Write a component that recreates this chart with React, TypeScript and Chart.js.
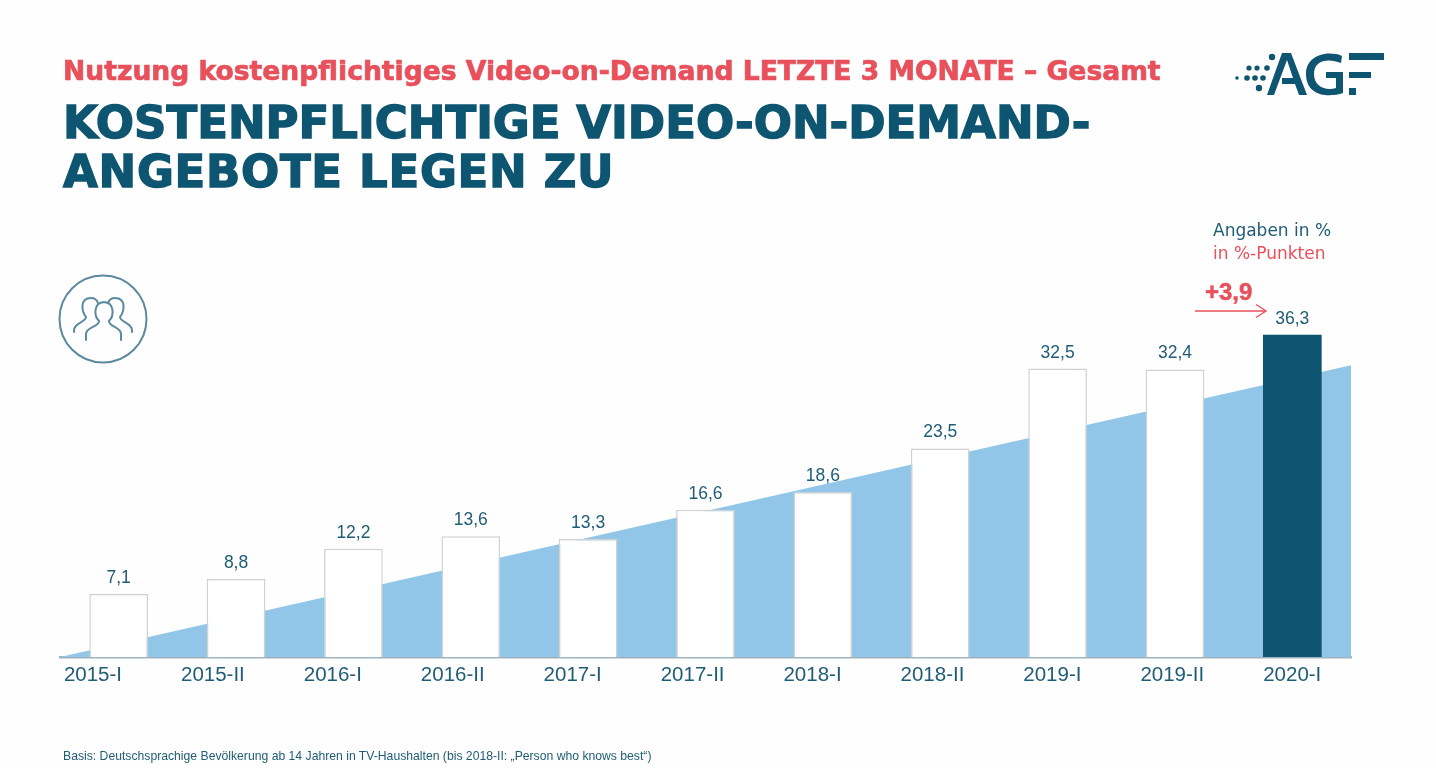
import React, { useEffect, useRef } from "react";
import { Chart, registerables } from "chart.js";

Chart.register(...registerables);

const categories = ["2015-I", "2015-II", "2016-I", "2016-II", "2017-I", "2017-II", "2018-I", "2018-II", "2019-I", "2019-II", "2020-I"];
const shares = [7.1, 8.8, 12.2, 13.6, 13.3, 16.6, 18.6, 23.5, 32.5, 32.4, 36.3];
const shareLabels = ["7,1", "8,8", "12,2", "13,6", "13,3", "16,6", "18,6", "23,5", "32,5", "32,4", "36,3"];
const trendX = [-0.275, 10.5];
const trendY = [0, 32.9];

const TEAL = "#0d5570";
const TEXT = "#1f5c75";
const RED = "#e8505b";
const BLUE = "#92c6e8";

const valueLabels = {
  id: "valueLabels",
  afterDatasetsDraw(chart: any) {
    const { ctx } = chart;
    const meta = chart.getDatasetMeta(0);
    ctx.save();
    ctx.font = '17.5px "Liberation Sans"';
    ctx.fillStyle = TEXT;
    ctx.textAlign = "center";
    ctx.textBaseline = "alphabetic";
    meta.data.forEach((bar: any, i: number) => {
      ctx.fillText(shareLabels[i], bar.x, bar.y - 11);
    });
    ctx.restore();
  },
};

const abs = (left: number, top: number, extra: React.CSSProperties = {}): React.CSSProperties => ({
  position: "absolute",
  left,
  top,
  margin: 0,
  whiteSpace: "nowrap",
  ...extra,
});

export default function App() {
  const ref = useRef<HTMLCanvasElement>(null);

  useEffect(() => {
    const chart = new Chart(ref.current as HTMLCanvasElement, {
      data: {
        labels: categories,
        datasets: [
          {
            type: "bar",
            data: shares,
            xAxisID: "x",
            yAxisID: "y",
            order: 1,
            grouped: false,
            barPercentage: 0.5,
            categoryPercentage: 1,
            backgroundColor: shares.map((_, i) => (i === shares.length - 1 ? TEAL : "#ffffff")),
            borderColor: shares.map((_, i) => (i === shares.length - 1 ? TEAL : "#cfd1d2")),
            borderWidth: shares.map((_, i) => (i === shares.length - 1 ? 0 : 1.5)),
          },
          {
            type: "line",
            data: trendX.map((x, i) => ({ x, y: trendY[i] })),
            xAxisID: "xLabels",
            yAxisID: "y",
            order: 2,
            fill: "origin",
            backgroundColor: BLUE,
            borderWidth: 0,
            pointRadius: 0,
            clip: false,
          },
        ],
      } as any,
      options: {
        responsive: false,
        animation: false,
        devicePixelRatio: 1,
        layout: { padding: { left: 60, right: 85, top: 302, bottom: 0 } },
        plugins: { legend: { display: false }, tooltip: { enabled: false }, title: { display: false } },
        scales: {
          x: {
            type: "category",
            position: "bottom",
            offset: true,
            display: false,
          },
          xLabels: {
            type: "linear",
            position: "bottom",
            min: -0.275,
            max: 10.49,
            afterBuildTicks: (axis: any) => {
              axis.ticks = categories.map((_, i) => ({ value: i }));
            },
            afterFit: (axis: any) => {
              axis.height = 111;
            },
            grid: { display: false, drawTicks: false },
            border: { display: true, color: "#9fb3bf", width: 2.5 },
            ticks: {
              autoSkip: false,
              maxRotation: 0,
              padding: 6,
              color: TEXT,
              font: { family: '"Liberation Sans"', size: 20.5 },
              callback: (v: any) => categories[Number(v)],
            },
          },
          y: { display: false, min: 0, max: 40 },
        },
      } as any,
      plugins: [valueLabels],
    });
    return () => chart.destroy();
  }, []);

  return (
    <div style={{ position: "fixed", left: 0, top: 0, width: 1436, height: 768, background: "#fefefe", overflow: "hidden" }}>
      <canvas ref={ref} width={1436} height={768} style={{ position: "absolute", left: 0, top: 0, display: "block" }} />
      <div style={abs(63, 53, { font: 'bold 26.6px/36px "DejaVu Sans"', color: RED, WebkitTextStroke: `0.7px ${RED}` })}>
        Nutzung kostenpflichtiges Video-on-Demand LETZTE 3 MONATE – Gesamt
      </div>
      <div style={abs(63, 98, { font: 'bold 45px/49px "DejaVu Sans"', color: TEAL, WebkitTextStroke: `1.4px ${TEAL}` })}>
        KOSTENPFLICHTIGE VIDEO-ON-DEMAND-
      </div>
      <div style={abs(63, 147, { font: 'bold 45px/49px "DejaVu Sans"', letterSpacing: "0.7px", color: TEAL, WebkitTextStroke: `1.4px ${TEAL}` })}>
        ANGEBOTE LEGEN ZU
      </div>
      <div style={abs(1213, 220, { font: '17px/20px "DejaVu Sans"', color: TEXT })}>Angaben in %</div>
      <div style={abs(1213, 243, { font: '17px/20px "DejaVu Sans"', color: RED })}>in %-Punkten</div>
      <div style={abs(1205, 279, { font: 'bold 24px/26px "Liberation Sans"', color: RED, WebkitTextStroke: `0.5px ${RED}` })}>+3,9</div>
      <div style={abs(63, 748, { font: '12.2px/16px "Liberation Sans"', color: TEXT })}>
        Basis: Deutschsprachige Bevölkerung ab 14 Jahren in TV-Haushalten (bis 2018-II: „Person who knows best“)
      </div>
      <svg width={1436} height={768} style={{ position: "absolute", left: 0, top: 0, pointerEvents: "none" }}>
        <g fill="none" stroke={RED} strokeWidth={1.4}>
          <path d="M1195 311 H1265" />
          <path d="M1256 304.5 L1266 311 L1256 317.5" />
        </g>
        <g fill="none" stroke="#5b8a9e" strokeWidth={2} strokeLinecap="round">
          <circle cx={103} cy={319} r={43.5} />
          <path d="M86 340 V334 C86 327 99 327 99 321 C94 316 93 303 104 302 C115 303 114 316 109 321 C109 327 121 327 121 334 V340" />
          <path d="M74 332 V330 C74 323 86 322 86 317 C82 312 79 298 91 298 C95 298 97 300 98 303" />
          <path d="M132 332 V330 C132 323 120 322 120 317 C124 312 127 298 115 298 C111 298 109 300 108 303" />
        </g>
        <g fill={TEAL}>
          <circle cx={1272} cy={57} r={3.2} />
          <circle cx={1249} cy={68} r={2.6} /><circle cx={1257} cy={68} r={2.6} /><circle cx={1267} cy={68} r={2.8} />
          <circle cx={1237} cy={78} r={1.8} /><circle cx={1247} cy={78} r={2.8} /><circle cx={1255} cy={78} r={2.8} /><circle cx={1263} cy={78} r={2.8} />
          <circle cx={1259} cy={88} r={3.2} />
          <path d="M1267 95 L1282 53 H1291 L1307 95 H1299 L1295 84 H1282 V78 H1293 L1287 60 L1274 95 Z" />
          <path d="M1342 56 C1328 50 1306 55 1306 74 C1306 96 1328 98 1343 93 V72 H1326 V78 H1336 V88 C1326 91 1314 87 1314 74 C1314 60 1328 58 1341 63 Z" />
          <rect x={1349} y={53} width={35} height={7} />
          <rect x={1349} y={72} width={22} height={6} />
          <rect x={1349} y={88} width={7} height={7} />
        </g>
      </svg>
    </div>
  );
}
